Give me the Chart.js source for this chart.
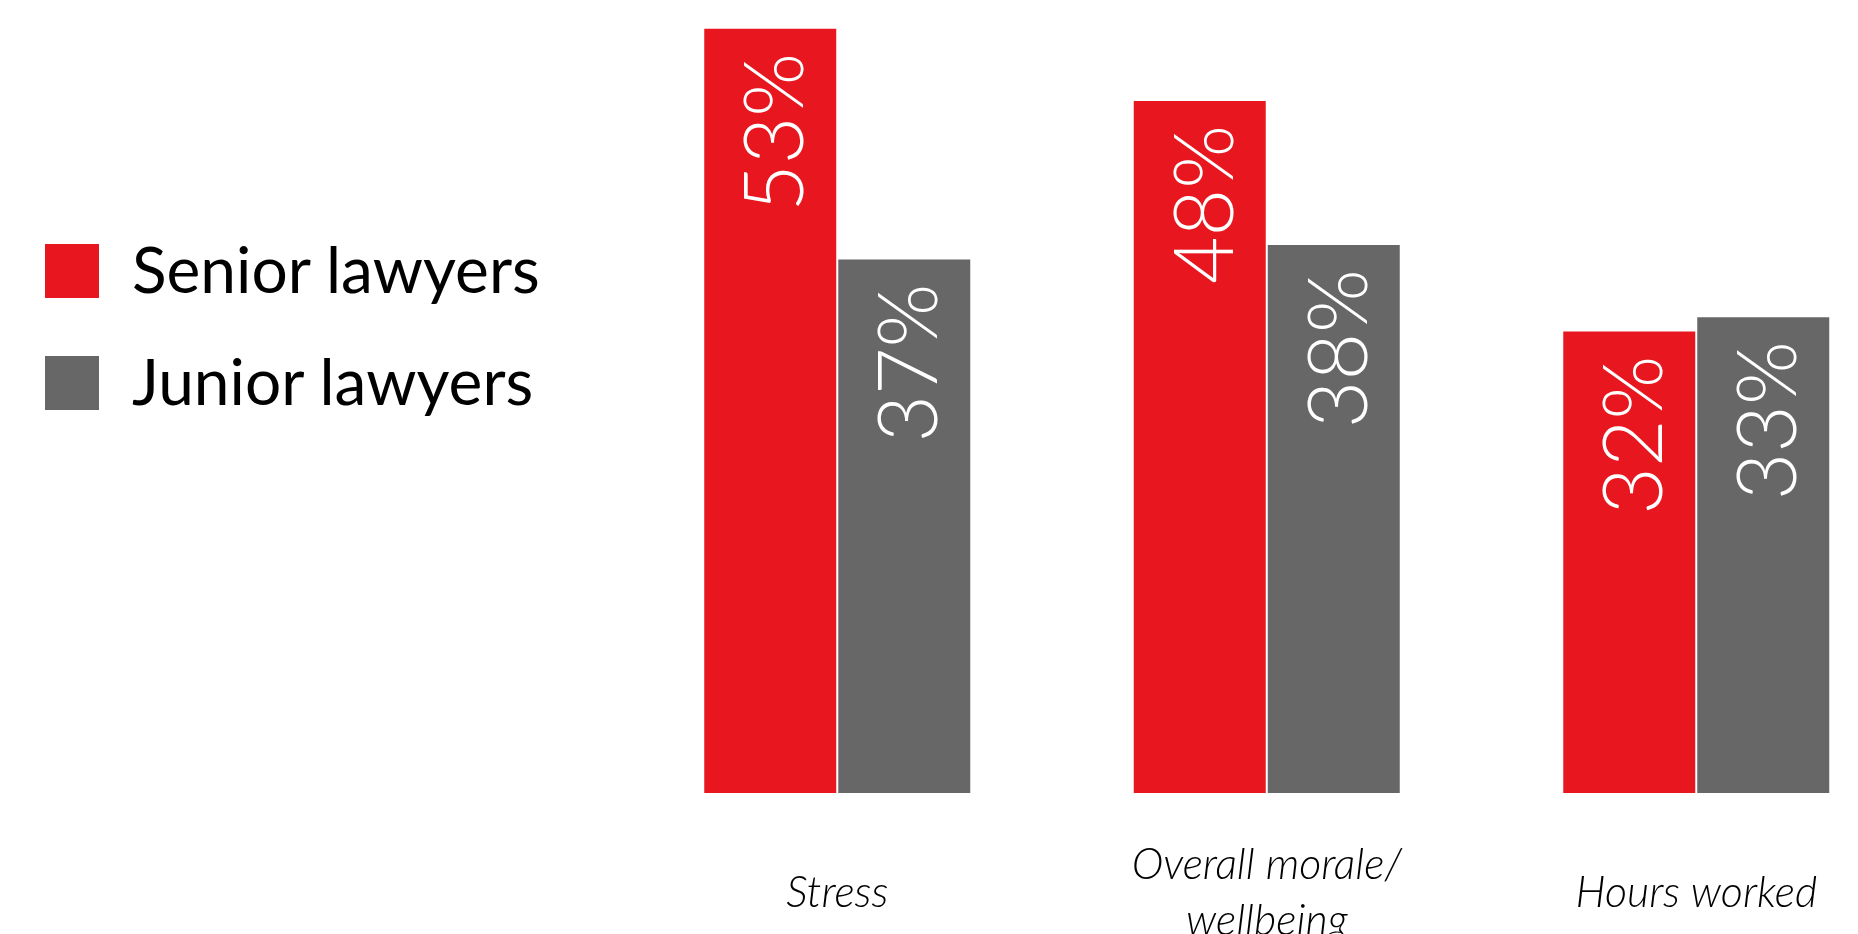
<!DOCTYPE html>
<html>
<head>
<meta charset="utf-8">
<script src="https://cdn.jsdelivr.net/npm/chart.js@4/dist/chart.umd.min.js"></script>
<style>
  html, body { margin: 0; padding: 0; background: #fff; overflow: hidden; }
  #wrap { position: relative; width: 1858px; height: 934px; overflow: hidden; }
  #chart { position: absolute; left: 0; top: 0; }
  #legend { position: absolute; left: 45px; top: 244px; font-family: Lato, sans-serif; }
  .item { display: flex; align-items: center; height: 54px; margin-bottom: 58px; }
  .box { width: 54px; height: 54px; margin-right: 33px; }
  .txt { font-size: 64px; color: #000; white-space: nowrap; line-height: 54px; position: relative; top: -2px; }
</style>
</head>
<body>
<div id="wrap">
  <canvas id="chart" width="1911" height="934"></canvas>
  <div id="legend"></div>
</div>
<script>
const categories = ['Stress', ['Overall morale/', 'wellbeing'], 'Hours worked'];
const seriesNames = ['Senior lawyers', 'Junior lawyers'];
const seniorValues = [53, 48, 32];
const juniorValues = [37, 38, 33];
const seriesColors = ['#E8171F', '#676767'];

// rotated white % labels near the top of each bar
const valueLabels = {
  id: 'valueLabels',
  afterDatasetsDraw(chart) {
    const ctx = chart.ctx;
    chart.data.datasets.forEach((ds, i) => {
      chart.getDatasetMeta(i).data.forEach((bar, j) => {
        ctx.save();
        ctx.translate(bar.x + 33, bar.y + 24);
        ctx.rotate(-Math.PI / 2);
        ctx.textAlign = 'right';
        ctx.textBaseline = 'alphabetic';
        ctx.fillStyle = '#ffffff';
        ctx.font = '300 82px Lato';
        ctx.fillText(ds.data[j] + '%', 0, 0);
        ctx.restore();
      });
    });
  }
};

const ctx = document.getElementById('chart');
const chart = new Chart(ctx, {
  type: 'bar',
  data: {
    labels: categories,
    datasets: [
      { label: seriesNames[0], data: seniorValues, backgroundColor: seriesColors[0] },
      { label: seriesNames[1], data: juniorValues, backgroundColor: seriesColors[1] }
    ]
  },
  options: {
    responsive: false,
    animation: false,
    layout: { padding: { left: 622.5, right: 0, top: 0, bottom: 0 } },
    categoryPercentage: 0.624,
    barPercentage: 0.985,
    plugins: {
      legend: { display: false },
      tooltip: { enabled: false }
    },
    scales: {
      y: {
        display: false,
        min: 0,
        max: 55
      },
      x: {
        grid: { display: false, drawTicks: false },
        border: { display: false },
        ticks: {
          padding: 72,
          color: '#000',
          maxRotation: 0,
          autoSkip: false,
          crossAlign: 'center',
          font: { family: 'Lato', size: 43, style: 'italic', weight: 300, lineHeight: 1.3 }
        },
        afterFit: function (scale) { scale.height = 141; }
      }
    }
  },
  plugins: [valueLabels]
});

// html legend from the datasets
const legendEl = document.getElementById('legend');
chart.data.datasets.forEach(ds => {
  const item = document.createElement('div');
  item.className = 'item';
  item.innerHTML = '<div class="box" style="background:' + ds.backgroundColor + '"></div><span class="txt">' + ds.label + '</span>';
  legendEl.appendChild(item);
});
</script>
</body>
</html>
